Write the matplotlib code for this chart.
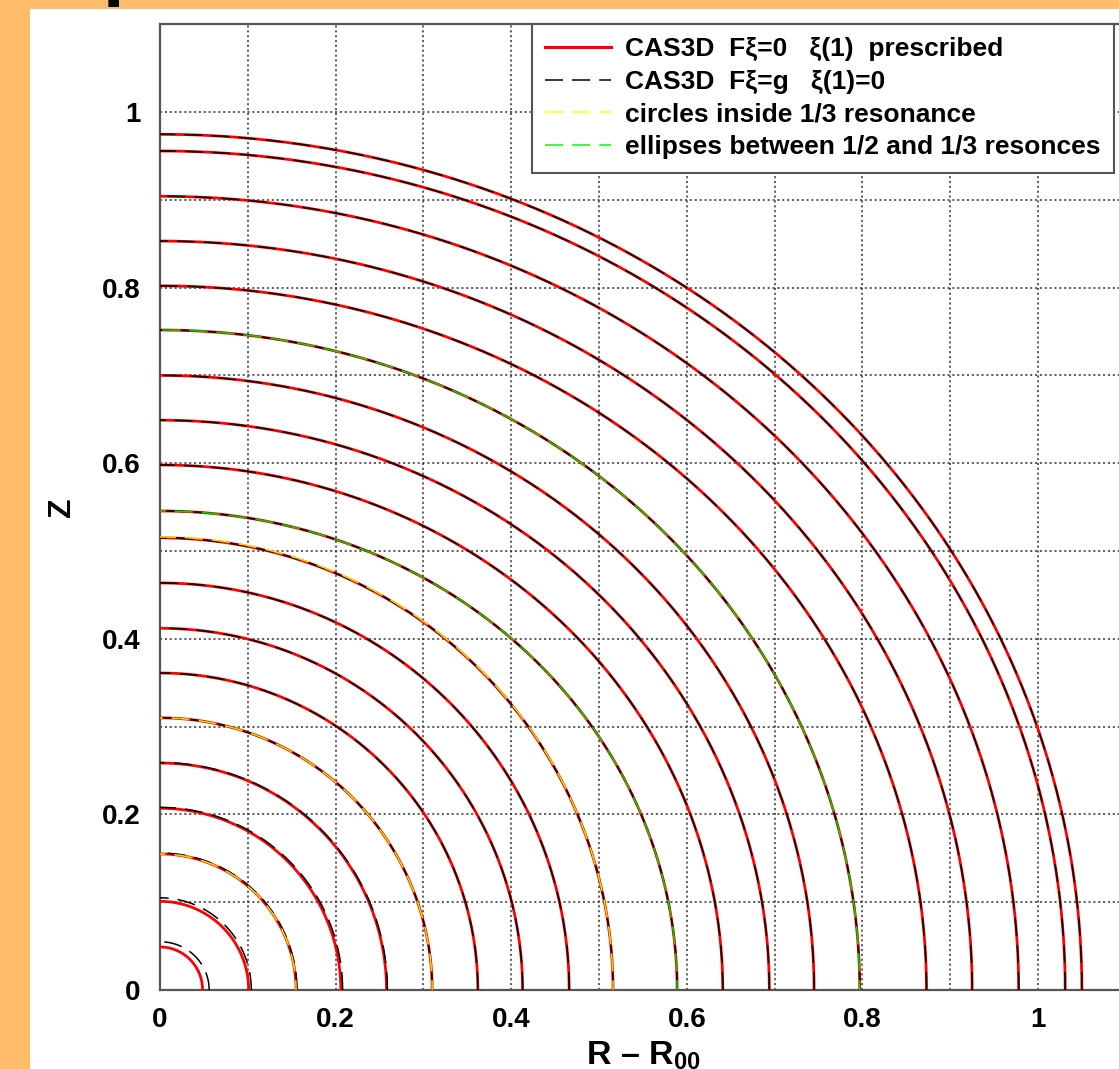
import numpy as np
import matplotlib
matplotlib.use('Agg')
import matplotlib.pyplot as plt
from matplotlib.lines import Line2D
from matplotlib.patches import Rectangle

plt.rcParams['font.family'] = ['Liberation Sans', 'DejaVu Sans']
plt.rcParams['font.weight'] = 'bold'
plt.rcParams['mathtext.fontset'] = 'custom'
plt.rcParams['mathtext.rm'] = 'Liberation Sans:bold'
plt.rcParams['mathtext.bf'] = 'Liberation Sans:bold'
plt.rcParams['mathtext.default'] = 'bf'
plt.rcParams['lines.scale_dashes'] = False

# ---- flux surfaces: semi-axes along R (a) and along Z (b) ----
# CAS3D, F xi = 0, xi(1) prescribed
red_a = [0.0485, 0.101, 0.155, 0.206, 0.258, 0.310, 0.362, 0.413, 0.466, 0.516,
         0.589, 0.641, 0.694, 0.745, 0.797, 0.873, 0.925, 0.978, 1.031, 1.050]
red_b = [0.049, 0.101, 0.155, 0.207, 0.2585, 0.310, 0.361, 0.412, 0.4636, 0.515,
         0.5456, 0.598, 0.649, 0.700, 0.7517, 0.802, 0.853, 0.904, 0.9556, 0.9746]
# CAS3D, F xi = g, xi(1) = 0
black_a = [0.056, 0.104, 0.156, 0.208, 0.259, 0.310, 0.362, 0.413, 0.466, 0.516,
           0.589, 0.641, 0.694, 0.745, 0.797, 0.873, 0.925, 0.978, 1.031, 1.050]
black_b = [0.055, 0.105, 0.156, 0.208, 0.259, 0.310, 0.361, 0.412, 0.4636, 0.515,
           0.5456, 0.598, 0.649, 0.700, 0.7517, 0.802, 0.853, 0.904, 0.9556, 0.9746]
# circles inside the 1/3 resonance (radius)
circle_r = [0.155, 0.310, 0.516]
# ellipses between the 1/2 and 1/3 resonances
ellipse_a = [0.589, 0.797]
ellipse_b = [0.5456, 0.7517]

legend_labels = [u'CAS3D  F\u03be=0   \u03be(1)  prescribed',
                 u'CAS3D  F\u03be=g   \u03be(1)=0',
                 'circles inside 1/3 resonance',
                 'ellipses between 1/2 and 1/3 resonces']

x_major = [0, 0.2, 0.4, 0.6, 0.8, 1.0]
x_labels = ['0', '0.2', '0.4', '0.6', '0.8', '1']
minor_ticks = [0.1, 0.3, 0.5, 0.7, 0.9, 1.1]

W, H = 1119, 1069
fig = plt.figure(figsize=(W / 100, H / 100), dpi=100)
fig.patch.set_facecolor('#FFBD6C')
fig.patches.append(Rectangle((30 / W, 0), 1 - 30 / W, 1 - 9 / H, transform=fig.transFigure,
                             facecolor='white', edgecolor='none', zorder=-5))
# clipped heading glyph at the very top
fig.text(102.5 / W, 1 + 9 / H, 'p', fontsize=56, fontweight='bold', va='baseline', ha='left')

ax = fig.add_axes([160 / W, (H - 990) / H, 965.8 / W, 965.8 / H])
ax.set_zorder(2)
ax.set_xlim(0, 1.1)
ax.set_ylim(0, 1.1)

t = np.linspace(0, np.pi / 2, 300)
dash = (0, (13, 6.5))
for a, b in zip(red_a, red_b):
    ax.plot(a * np.cos(t), b * np.sin(t), color='#FF0000', lw=2.0, zorder=3,
            solid_capstyle='butt')
for a, b in zip(black_a, black_b):
    ax.plot(a * np.cos(t), b * np.sin(t), color='black', lw=1.1, ls=dash, zorder=4)
for r in circle_r:
    ax.plot(r * np.cos(t), r * np.sin(t), color='#F2DC00', lw=1.1, ls=(6, (13, 6.5)), zorder=5)
for a, b in zip(ellipse_a, ellipse_b):
    ax.plot(a * np.cos(t), b * np.sin(t), color='#00D800', lw=1.1, ls=(6, (13, 6.5)), zorder=5)

ax.set_xticks(x_major)
ax.set_xticklabels(x_labels)
ax.set_yticks(x_major)
ax.set_yticklabels(x_labels)
ax.set_xticks(minor_ticks, minor=True)
ax.set_yticks(minor_ticks, minor=True)
ax.tick_params(which='both', length=0)
ax.tick_params(axis='x', pad=12, labelsize=20)
ax.tick_params(axis='y', pad=14, labelsize=20)
ax.grid(which='both', color='#333333', ls=(0, (1.5, 2)), lw=1.1, zorder=1)
ax.set_axisbelow(True)
for s in ax.spines.values():
    s.set_color('#555555')
    s.set_linewidth(1.6)

ax.set_ylabel('Z', fontsize=23, fontweight='bold')
ax.yaxis.set_label_coords(-83 / 965.8, 0.5)
ax.set_xlabel(u'R \u2013 R$_{00}$', fontsize=24.5, fontweight='bold')
ax.xaxis.set_label_coords(0.5, -50 / 965.8)

handles = [Line2D([], [], color='#FF0000', lw=2.2),
           Line2D([], [], color='black', lw=1.1, ls=dash),
           Line2D([], [], color='#FFFF00', lw=1.1, ls=dash),
           Line2D([], [], color='#00FF00', lw=1.1, ls=dash)]
leg = fig.legend(handles, legend_labels, loc='upper left',
                 bbox_to_anchor=(531.5 / W, 1 - 24 / H), bbox_transform=fig.transFigure,
                 borderaxespad=0, prop={'weight': 'bold', 'size': 19},
                 handlelength=2.5, handletextpad=0.55, labelspacing=0.33,
                 borderpad=0.5, fancybox=False, framealpha=1, edgecolor='#555555')
leg.get_frame().set_linewidth(1.5)
leg.set_zorder(10)

fig.savefig('out.png', dpi=100, facecolor=fig.get_facecolor())
